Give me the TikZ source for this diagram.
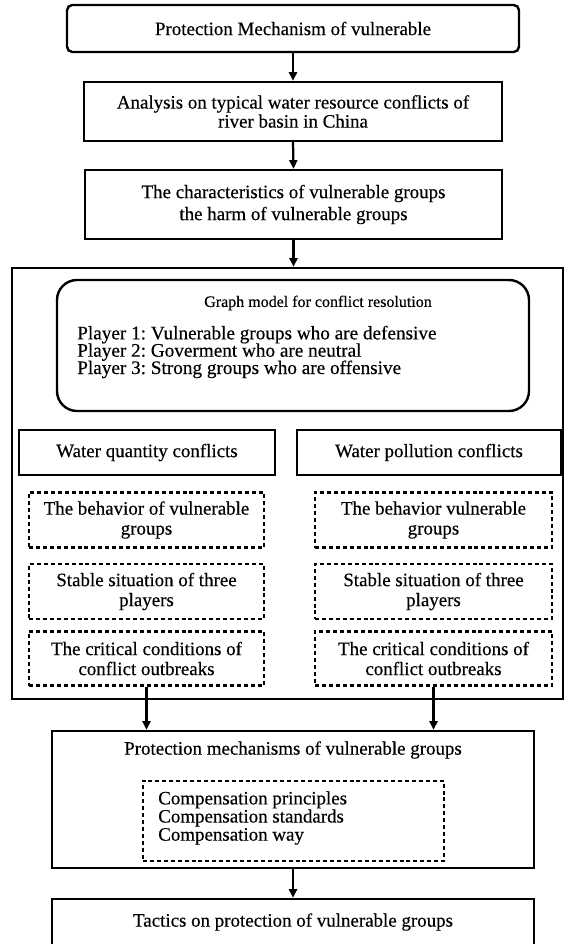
\documentclass[tikz,border=0pt]{standalone}
\usepackage{fontspec}
\setmainfont{Liberation Serif}[FakeBold=0.35]
\usetikzlibrary{arrows.meta}
\frenchspacing
\newcommand\txtA{\fontsize{14.2}{14.3}\selectfont\lineskiplimit=-20pt\lineskip=0pt}
\newcommand\txtB{\fontsize{14.2}{16.5}\selectfont\lineskiplimit=-20pt\lineskip=0pt}
\newcommand\txtC{\fontsize{14.4}{13}\selectfont\lineskiplimit=-20pt\lineskip=0pt}
\newcommand\txtD{\fontsize{14.2}{15}\selectfont\lineskiplimit=-20pt\lineskip=0pt}
\newcommand\txtE{\fontsize{14.2}{13.6}\selectfont\lineskiplimit=-20pt\lineskip=0pt}
\newcommand\txtT{\fontsize{12}{14}\selectfont}
\begin{document}
\begin{tikzpicture}[x=0.75pt,y=-0.75pt,
  solidbox/.style={draw, line width=1.8pt, inner sep=0pt, align=center, font=\txtA},
  dashbox/.style={draw, line width=1.6pt, dash pattern=on 3pt off 2.2pt, inner sep=0pt, align=center, font=\txtD},
  plain/.style={inner sep=0pt, align=center},
  arr/.style={line width=1.7pt, -{Triangle[length=6.5pt,width=6pt]}}]
\clip (0,0) rectangle (564,944);
\fill[white] (0,0) rectangle (564,944);

% top chain
\node[solidbox, rounded corners=4pt, minimum width=452*0.75pt, minimum height=47*0.75pt] (b1) at (293,28.5) {Protection Mechanism of vulnerable};
\node[solidbox, minimum width=418*0.75pt, minimum height=59*0.75pt] (b2) at (293,111.5) {Analysis on typical water resource conflicts of\\river basin in China};
\node[solidbox, font=\txtB, minimum width=417*0.75pt, minimum height=69*0.75pt] (b3) at (293.5,204.5) {The characteristics of vulnerable groups\\the harm of vulnerable groups};

% outer frame
\node[draw, line width=1.8pt, inner sep=0pt, minimum width=551*0.75pt, minimum height=431*0.75pt] (outer) at (287.5,483.5) {};

% graph model
\node[draw, line width=1.8pt, rounded corners=15pt, inner sep=0pt, minimum width=472*0.75pt, minimum height=131*0.75pt] (gm) at (293,345.5) {};
\node[plain, font=\txtT] (gt) at (318,303) {Graph model for conflict resolution};
\node[plain, align=left, font=\txtC, anchor=west] (gp) at (77,352) {Player 1: Vulnerable groups who are defensive\\Player 2: Goverment who are neutral\\Player 3: Strong groups who are offensive};

% water boxes
\node[solidbox, minimum width=256*0.75pt, minimum height=45*0.75pt] (wq) at (147,452.5) {Water quantity conflicts};
\node[solidbox, minimum width=264*0.75pt, minimum height=45*0.75pt] (wp) at (429,452.5) {Water pollution conflicts};

% dashed boxes left
\node[dashbox, minimum width=235*0.75pt, minimum height=55*0.75pt] (l1) at (146.5,520) {The behavior of vulnerable\\groups};
\node[dashbox, minimum width=235*0.75pt, minimum height=55*0.75pt] (l2) at (146.5,591.5) {Stable situation of three\\players};
\node[dashbox, minimum width=235*0.75pt, minimum height=54*0.75pt] (l3) at (146.5,658.5) {The critical conditions of\\conflict outbreaks};
% dashed boxes right
\node[dashbox, minimum width=237*0.75pt, minimum height=55*0.75pt] (r1) at (433.5,520) {The behavior vulnerable\\groups};
\node[dashbox, minimum width=237*0.75pt, minimum height=55*0.75pt] (r2) at (433.5,591.5) {Stable situation of three\\players};
\node[dashbox, minimum width=237*0.75pt, minimum height=54*0.75pt] (r3) at (433.5,658.5) {The critical conditions of\\conflict outbreaks};

% protection mechanisms
\node[draw, line width=1.8pt, inner sep=0pt, minimum width=482*0.75pt, minimum height=137*0.75pt] (pm) at (293,799.5) {};
\node[plain, font=\txtA] (pt) at (293,750) {Protection mechanisms of vulnerable groups};
\node[draw, line width=1.6pt, dash pattern=on 3pt off 2.2pt, inner sep=0pt, minimum width=301*0.75pt, minimum height=80*0.75pt] (cp) at (293.5,821) {};
\node[plain, align=left, font=\txtE, anchor=west] (ct) at (158,818) {Compensation principles\\Compensation standards\\Compensation way};

% tactics
\node[draw, line width=1.8pt, inner sep=0pt, minimum width=482*0.75pt, minimum height=61*0.75pt] (tf) at (293,929.5) {};
\node[plain, font=\txtA] (tt) at (293,922) {Tactics on protection of vulnerable groups};

% connectors
\draw[arr] (b1.south) -- (b2.north);
\draw[arr] (b2.south) -- (b3.north);
\draw[arr] (b3.south) -- (b3.south |- outer.north);
\draw[arr] (l3.south) -- (l3.south |- pm.north);
\draw[arr] (r3.south) -- (r3.south |- pm.north);
\draw[arr] (pm.south) -- (tf.north);
\end{tikzpicture}
\end{document}
